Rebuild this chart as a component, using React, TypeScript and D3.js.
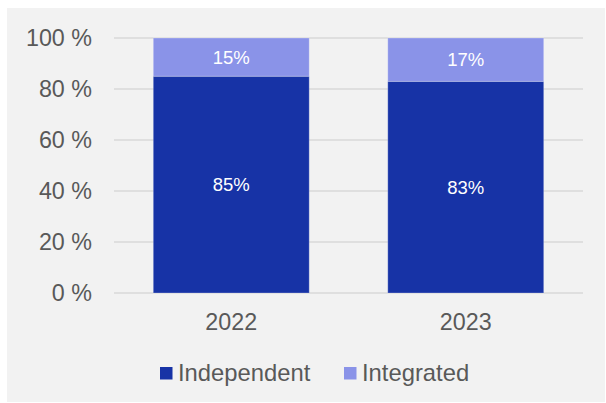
import React from "react";
import * as d3 from "d3";

const categories = ["2022", "2023"];
const independent = [85, 83];
const integrated = [15, 17];
const seriesNames = ["Independent", "Integrated"];
const yTicks = [0, 20, 40, 60, 80, 100];

const colors = ["#1733A6", "#8A93E8"];
const W = 606;
const H = 403;

export default function App() {
  const x = d3.scaleBand<string>().domain(categories).range([114, 583]).paddingInner(0.335).paddingOuter(0.1675);
  const y = d3.scaleLinear().domain([0, 100]).range([293, 38]);
  const stackData = categories.map((c, i) => ({ cat: c, Independent: independent[i], Integrated: integrated[i] }));
  const stacked = d3.stack<any>().keys(seriesNames)(stackData);
  const font = "Arial, 'Liberation Sans', sans-serif";

  return (
    <svg width={W} height={H} style={{ position: "absolute", left: 0, top: 0 }}>
      <rect x={7} y={8} width={598} height={394} fill="#F2F2F2" />
      {yTicks.map((t) => (
        <g key={t}>
          <line x1={114} x2={583} y1={y(t)} y2={y(t)} stroke="#D9D9D9" strokeWidth={1.5} />
          <text x={92} y={y(t)} dy="0.36em" textAnchor="end" fontFamily={font} fontSize={23.3} fill="#595959">
            {t} %
          </text>
        </g>
      ))}
      {stacked.map((s, si) =>
        s.map((d, i) => {
          const x0 = x(categories[i])!;
          const y0 = y(d[1]);
          const h = y(d[0]) - y(d[1]);
          const val = d[1] - d[0];
          return (
            <g key={`${si}-${i}`}>
              <rect x={x0} y={y0} width={x.bandwidth()} height={h} fill={colors[si]} stroke="rgba(255,255,255,0.25)" strokeWidth={1} />
              <text x={x0 + x.bandwidth() / 2} y={y0 + h / 2} dy="0.36em" textAnchor="middle" fontFamily={font} fontSize={18.5} fill="#FFFFFF">
                {val}%
              </text>
            </g>
          );
        })
      )}
      {categories.map((c) => (
        <text key={c} x={x(c)! + x.bandwidth() / 2} y={330} textAnchor="middle" fontFamily={font} fontSize={23.3} fill="#595959">
          {c}
        </text>
      ))}
      <g>
        <rect x={160} y={367} width={12.5} height={12.5} fill={colors[0]} />
        <text x={178} y={381} fontFamily={font} fontSize={23.8} fill="#595959">{seriesNames[0]}</text>
        <rect x={344} y={367} width={12.5} height={12.5} fill={colors[1]} />
        <text x={362} y={381} fontFamily={font} fontSize={23.8} fill="#595959">{seriesNames[1]}</text>
      </g>
    </svg>
  );
}
